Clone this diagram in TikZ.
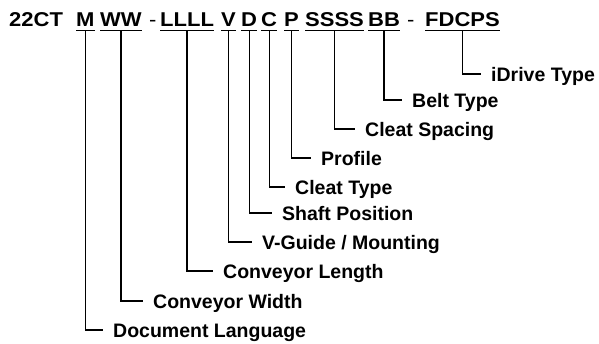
\documentclass[tikz,border=0pt]{standalone}
\usepackage{fontspec}
\setmainfont{Liberation Sans}
\newfontfamily\ttlfont[FakeStretch=1.1]{Liberation Sans Bold}
\newfontfamily\hyfont[FakeStretch=1.1]{Liberation Sans}
\begin{document}
\begin{tikzpicture}[x=1pt,y=-1pt,
  ttl/.style={font=\fontsize{20}{20}\ttlfont, inner sep=0pt, anchor=base west, text depth=0pt},
  hy/.style={font=\fontsize{20}{20}\hyfont, inner sep=0pt, anchor=base west, text depth=0pt},
  lab/.style={font=\fontsize{19.5}{19.5}\selectfont\bfseries, anchor=west, inner xsep=10pt, inner ysep=0pt, text height=14pt, text depth=0pt},
  ul/.style={line width=1.4pt},
  conn/.style={line width=1.2pt}
]
\useasboundingbox (0,0) rectangle (599,343);
% title pieces
\node[ttl] (t0) at (9,26) {22CT};
\node[ttl] (tM) at (76,26) {M};
\node[ttl] (tW) at (100,26) {WW};
\node[hy] (h1) at (149,26) {-};
\node[ttl] (tL) at (160,26) {LLLL};
\node[ttl] (tV) at (221,26) {V};
\node[ttl] (tD) at (241,26) {D};
\node[ttl] (tC) at (261,26) {C};
\node[ttl] (tP) at (284,26) {P};
\node[ttl] (tS) at (305,26) {SSSS};
\node[ttl] (tB) at (368,26) {BB};
\node[hy] (h2) at (407,26) {-};
\node[ttl] (tF) at (425,26) {FDCPS};
% underlines
\foreach \n in {tM,tW,tL,tV,tD,tC,tP,tS,tB,tF}
  \draw[ul] ([yshift=-4pt]\n.south west) -- ([yshift=-4pt]\n.south east);
% labels
\node[lab] (lF) at (481,74) {iDrive Type};
\node[lab] (lB) at (402,100) {Belt Type};
\node[lab] (lS) at (355,129) {Cleat Spacing};
\node[lab] (lP) at (311,158) {Profile};
\node[lab] (lC) at (285,187) {Cleat Type};
\node[lab] (lD) at (272,213) {Shaft Position};
\node[lab] (lV) at (252,242) {V-Guide / Mounting};
\node[lab] (lL) at (213,271) {Conveyor Length};
\node[lab] (lW) at (143,301) {Conveyor Width};
\node[lab] (lM) at (103,330) {Document Language};
% connectors
\foreach \a/\b in {tF/lF,tB/lB,tS/lS,tP/lP,tC/lC,tD/lD,tV/lV,tL/lL,tW/lW,tM/lM}
  \draw[conn] ([yshift=-4pt]\a.south) |- (\b.west);
\end{tikzpicture}
\end{document}
